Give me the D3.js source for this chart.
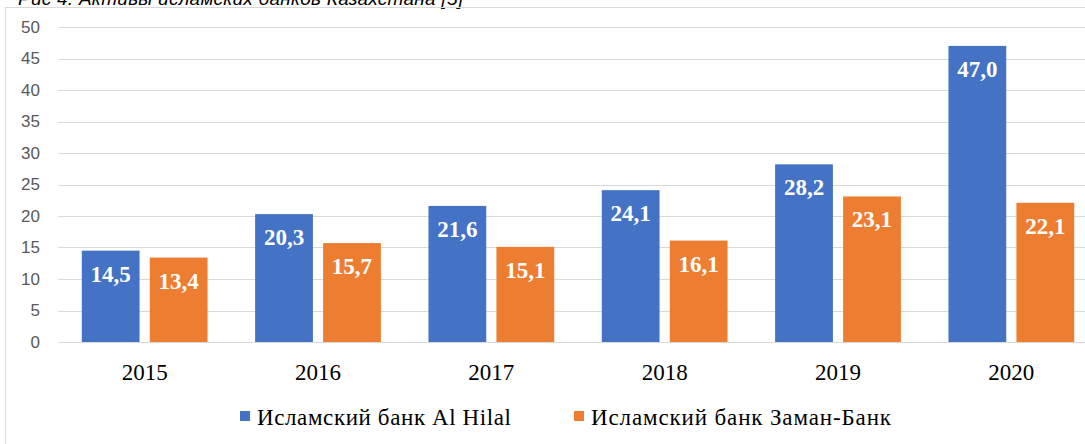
<!DOCTYPE html>
<html>
<head>
<meta charset="utf-8">
<script src="https://cdn.jsdelivr.net/npm/d3@7"></script>
<style>
  body { margin: 0; background: #fff; }
  svg { display: block; }
</style>
</head>
<body>
<svg id="chart" width="1085" height="444"></svg>
<script>
// data
var years = ['2015', '2016', '2017', '2018', '2019', '2020'];
var alHilal = [14.5, 20.3, 21.6, 24.1, 28.2, 47.0];
var zaman = [13.4, 15.7, 15.1, 16.1, 23.1, 22.1];
var seriesNames = ['Исламский банк Al Hilal', 'Исламский банк Заман-Банк'];
var seriesColors = ['#4472c4', '#ed7d31'];
var yTicks = [0, 5, 10, 15, 20, 25, 30, 35, 40, 45, 50];

var width = 1085;
var height = 444;

var svg = d3.select('#chart');

// caption, cut off at the top of the picture
svg.append('text')
    .attr('x', 18)
    .attr('y', 5)
    .attr('font-family', 'Liberation Sans, Arial, sans-serif')
    .attr('font-style', 'italic')
    .attr('font-size', 19)
    .attr('textLength', 445)
    .attr('fill', '#000')
    .text('Рис 4. Активы исламских банков Казахстана [5]');

// chart frame
svg.append('rect')
    .attr('x', 5.5)
    .attr('y', 7.5)
    .attr('width', 1100)
    .attr('height', 460)
    .attr('fill', 'none')
    .attr('stroke', '#d9d9d9');

var y = d3.scaleLinear()
    .domain([0, 50])
    .range([342, 27]);

var x0 = d3.scaleBand()
    .domain(years)
    .range([58, 1098]);

var x1 = d3.scaleBand()
    .domain([0, 1])
    .range([0, x0.bandwidth()])
    .paddingInner(0.15)
    .paddingOuter(0.35);

// gridlines
svg.append('g')
    .selectAll('line')
    .data(yTicks)
    .enter()
    .append('line')
    .attr('x1', 58)
    .attr('x2', 1098)
    .attr('y1', function(d) { return Math.round(y(d)) + 0.5; })
    .attr('y2', function(d) { return Math.round(y(d)) + 0.5; })
    .attr('stroke', '#d9d9d9')
    .attr('stroke-width', 1);

// y axis labels
var yAxis = d3.axisLeft(y)
    .tickValues(yTicks)
    .tickSize(0)
    .tickPadding(0);

var yg = svg.append('g')
    .attr('transform', 'translate(40,0)')
    .call(yAxis);
yg.select('.domain').remove();
yg.selectAll('text')
    .attr('font-family', 'Liberation Sans, Arial, sans-serif')
    .attr('font-size', 17)
    .attr('fill', '#595959');

// x axis labels
var xAxis = d3.axisBottom(x0)
    .tickSize(0)
    .tickPadding(0);

var xg = svg.append('g')
    .attr('transform', 'translate(0,359)')
    .call(xAxis);
xg.select('.domain').remove();
xg.selectAll('text')
    .attr('dy', '0.9em')
    .attr('font-family', 'Liberation Serif, Times New Roman, serif')
    .attr('font-size', 23)
    .attr('fill', '#000');

// bars
var rows = years.map(function(yr, i) {
    return { year: yr, values: [alHilal[i], zaman[i]] };
});

var groups = svg.append('g')
    .selectAll('g')
    .data(rows)
    .enter()
    .append('g')
    .attr('transform', function(d) { return 'translate(' + x0(d.year) + ',0)'; });

var cells = groups.selectAll('g')
    .data(function(d) { return d.values.map(function(v, k) { return { k: k, v: v }; }); })
    .enter()
    .append('g');

cells.append('rect')
    .attr('x', function(d) { return x1(d.k); })
    .attr('y', function(d) { return y(d.v); })
    .attr('width', x1.bandwidth())
    .attr('height', function(d) { return y(0) - y(d.v); })
    .attr('fill', function(d) { return seriesColors[d.k]; });

cells.append('text')
    .attr('x', function(d) { return x1(d.k) + x1.bandwidth() / 2; })
    .attr('y', function(d) { return y(d.v) + 31; })
    .attr('text-anchor', 'middle')
    .attr('font-family', 'Liberation Serif, Times New Roman, serif')
    .attr('font-weight', 'bold')
    .attr('font-size', 23)
    .attr('fill', '#fff')
    .text(function(d) { return d.v.toFixed(1).replace('.', ','); });

// legend
var legendX = [240, 574];
var legendLen = [254, 300];
var legend = svg.append('g')
    .selectAll('g')
    .data(seriesNames)
    .enter()
    .append('g')
    .attr('transform', function(d, i) { return 'translate(' + legendX[i] + ',0)'; });

legend.append('rect')
    .attr('x', 0)
    .attr('y', 411)
    .attr('width', 10)
    .attr('height', 10)
    .attr('fill', function(d, i) { return seriesColors[i]; });

legend.append('text')
    .attr('x', 17)
    .attr('y', 425)
    .attr('font-family', 'Liberation Serif, Times New Roman, serif')
    .attr('font-size', 23)
    .attr('textLength', function(d, i) { return legendLen[i]; })
    .attr('fill', '#000')
    .text(function(d) { return d; });
</script>
</body>
</html>
